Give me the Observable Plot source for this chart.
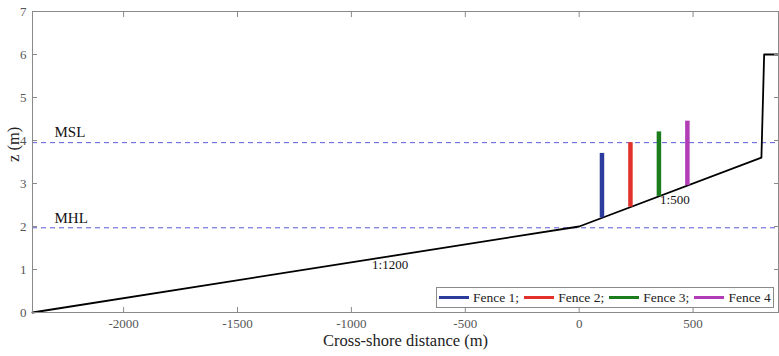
<!DOCTYPE html>
<html><head><meta charset="utf-8">
<script src="https://cdn.jsdelivr.net/npm/d3@7"></script>
<script src="https://cdn.jsdelivr.net/npm/@observablehq/plot@0.6"></script>
<style>
body{margin:0;background:#fff;}
#wrap{position:relative;width:779px;height:356px;font-family:"Liberation Serif","Times New Roman",serif;}
#wrap svg text{font-family:"Liberation Serif","Times New Roman",serif !important;font-variant:normal !important;}
#legend{position:absolute;left:436px;top:287px;width:336px;height:19px;border:1px solid #8a8a8a;background:#fff;display:flex;align-items:center;font-size:13.5px;color:#222;white-space:nowrap;}
#legend .item{display:flex;align-items:center;margin-left:2px;margin-right:3px;}
#legend .sw{display:inline-block;width:30px;height:3px;margin-right:4px;}
</style></head>
<body><div id="wrap"></div>
<script>
// Data
const profileX = [-2400, 0, 800, 812, 875];
const profileZ = [0, 2, 3.6, 6.0, 6.0];
const fenceNames = ["Fence 1", "Fence 2", "Fence 3", "Fence 4"];
const fenceX = [100, 225, 350, 475];
const fenceBase = [2.2, 2.45, 2.7, 2.95];
const fenceTop = [3.7, 3.95, 4.2, 4.45];
const levelNames = ["MSL", "MHL"];
const levelZ = [3.95, 1.97];
const slopeNames = ["1:1200", "1:500"];
const slopeX = [-830, 420];
const slopeZ = [1.31, 2.84];
const xTicks = [-2000, -1500, -1000, -500, 0, 500];
const yTicks = [0, 1, 2, 3, 4, 5, 6, 7];
const xDomain = [-2400, 875];
const yDomain = [0, 7];

const fenceColors = ["#2c3c9c", "#e2312b", "#1c7d1c", "#b23cb6"];

const profile = profileX.map((x, i) => ({x, z: profileZ[i]}));
const fences = fenceNames.map((name, i) => ({name, x: fenceX[i], z1: fenceBase[i], z2: fenceTop[i], color: fenceColors[i]}));
const levels = levelNames.map((name, i) => ({name, z: levelZ[i]}));
const slopes = slopeNames.map((name, i) => ({name, x: slopeX[i], z: slopeZ[i]}));

const fmt = d => String(d);
const font = "Liberation Serif, Times New Roman, serif";
const chart = Plot.plot({
  width: 779, height: 356,
  marginLeft: 32, marginRight: 1, marginTop: 11, marginBottom: 44,
  style: {fontFamily: font, background: "#fff"},
  x: {domain: xDomain},
  y: {domain: yDomain},
  marks: [
    Plot.ruleY(levels, {y: "z", stroke: "#5a5ad6", strokeWidth: 1, strokeDasharray: "5,4"}),
    Plot.line(profile, {x: "x", y: "z", stroke: "#000", strokeWidth: 1.8}),
    Plot.ruleX(fences, {x: "x", y1: "z1", y2: "z2", stroke: "color", strokeWidth: 4.5}),
    Plot.text(levels, {x: xDomain[0], y: "z", text: "name", textAnchor: "start", dx: 22, dy: -10, fontSize: 15, fill: "#111"}),
    Plot.text(slopes, {x: "x", y: "z", text: "name", dy: 9, dx: 0, fontSize: 13, fill: "#111"}),
    Plot.frame({stroke: "#8a8a8a"}),
    Plot.axisX({anchor: "bottom", ticks: xTicks, tickFormat: fmt, tickSize: -5, tickPadding: 11, fontSize: 13, stroke: "#8a8a8a", fill: "#555", label: null}),
    Plot.axisX({anchor: "top", ticks: xTicks, tickSize: -5, tickFormat: () => "", stroke: "#8a8a8a", label: null}),
    Plot.axisY({anchor: "left", ticks: yTicks, tickFormat: fmt, tickSize: -5, tickPadding: 11, fontSize: 13, stroke: "#8a8a8a", fill: "#555", label: null}),
    Plot.axisY({anchor: "right", ticks: yTicks, tickSize: -5, tickFormat: () => "", stroke: "#8a8a8a", label: null}),
    Plot.text(["Cross-shore distance (m)"], {frameAnchor: "bottom", dy: 33, fontSize: 16.5, fill: "#222"}),
    Plot.text(["z (m)"], {frameAnchor: "left", rotate: -90, dx: -19, fontSize: 16.5, fill: "#222"})
  ]
});
const wrap = document.getElementById("wrap");
wrap.appendChild(chart);
const legend = document.createElement("div");
legend.id = "legend";
fences.forEach((f, i) => {
  const item = document.createElement("span");
  item.className = "item";
  const sw = document.createElement("span");
  sw.className = "sw";
  sw.style.background = f.color;
  item.appendChild(sw);
  item.appendChild(document.createTextNode(f.name + (i < fences.length - 1 ? ";" : "")));
  legend.appendChild(item);
});
wrap.appendChild(legend);
</script></body></html>
